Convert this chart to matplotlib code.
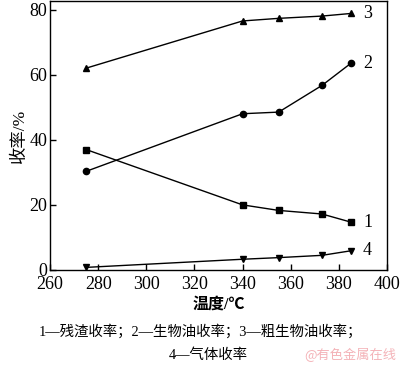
import matplotlib
matplotlib.use("Agg")
import matplotlib.pyplot as plt

plt.rcParams['font.family'] = ['Liberation Serif', 'Noto Sans CJK SC']

temp_ = [275, 340, 355, 373, 385]
residue_ = [37.0, 20.0, 18.3, 17.2, 14.7]      # 1
biooil_ = [30.3, 48.0, 48.5, 56.7, 63.5]       # 2
crude_oil_ = [62.0, 76.5, 77.3, 78.0, 78.8]    # 3
gas_ = [0.8, 3.3, 3.8, 4.5, 5.9]               # 4
series_labels_ = ['1', '2', '3', '4']
xticks_ = [260, 280, 300, 320, 340, 360, 380, 400]
yticks_ = [0, 20, 40, 60, 80]

fig = plt.figure(figsize=(4.0, 3.65), dpi=100)
ax = fig.add_axes([0.125, 0.2603, 0.8425, 0.7367])

series_ = [residue_, biooil_, crude_oil_, gas_]
markers_ = ['s', 'o', '^', 'v']
for vals_, mk_, lab_ in zip(series_, markers_, series_labels_):
    ax.plot(temp_, vals_, color='black', lw=1.0, marker=mk_, ms=4.5)
    ax.text(temp_[-1] + 5, vals_[-1], lab_, fontsize=13, va='center', ha='left')

ax.set_xlim(260, 400)
ax.set_ylim(0, 82.6)
ax.set_xticks(xticks_)
ax.set_yticks(yticks_)
ax.tick_params(direction='in', length=4, width=1, labelsize=13)
ax.tick_params(axis='x', pad=4)
ax.tick_params(axis='y', pad=2)
for sp_ in ax.spines.values():
    sp_.set_linewidth(1.0)

ax.set_ylabel('收率/%', fontsize=12.5, labelpad=1)
ax.set_xlabel('温度/℃', fontsize=11.5, fontweight='bold', labelpad=3)

fig.text(0.5, 0.092, '1—残渣收率；2—生物油收率；3—粗生物油收率；',
         fontsize=10.4, ha='center', va='center')
fig.text(0.52, 0.027, '4—气体收率', fontsize=10.4, ha='center', va='center')
fig.text(0.99, 0.027, '@有色金属在线', fontsize=9.5, color='#f4b3b8',
         ha='right', va='center', family=['Noto Sans CJK SC'])

fig.savefig('out.png', dpi=100)
